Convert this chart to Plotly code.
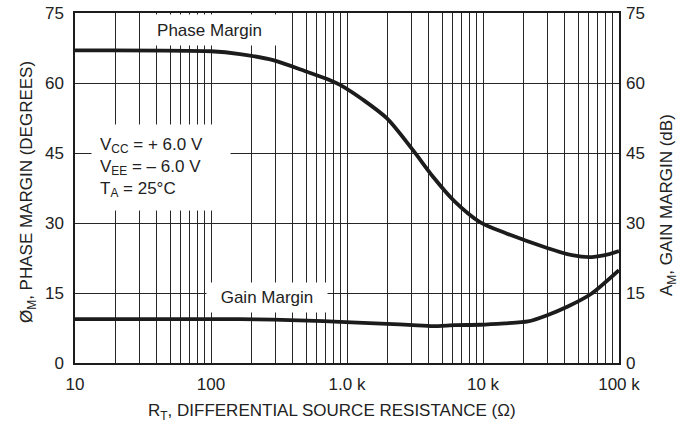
import plotly.graph_objects as go

# ---- data ----
phase_r = [10, 100, 163, 286, 508, 750, 889, 1312, 1968, 3055, 4290, 6100, 9500, 14450, 30000, 45100, 63000, 78900, 100000]
phase_deg = [67.0, 66.8, 66.2, 64.9, 62.4, 60.6, 59.6, 56.4, 52.4, 45.6, 39.9, 34.8, 30.2, 27.9, 24.6, 23.1, 22.7, 23.1, 24.0]

gain_r = [10, 100, 163, 286, 508, 889, 1968, 3055, 4290, 6225, 9500, 14450, 21400, 30000, 42000, 63000, 100000]
gain_db = [9.4, 9.4, 9.4, 9.3, 9.1, 8.8, 8.4, 8.1, 7.9, 8.1, 8.2, 8.5, 8.9, 10.3, 12.1, 14.9, 19.9]

x_tickvals = [10, 100, 1000, 10000, 100000]
x_ticktext = ["10", "100", "1.0 k", "10 k", "100 k"]
y_tickvals = [0, 15, 30, 45, 60, 75]

FONT = "Liberation Sans, Arial, sans-serif"
FS = 17
TXT = "#222"
INK = "#1c1c1c"
GRID = "#262626"

fig = go.Figure()
fig.add_trace(go.Scatter(x=phase_r, y=phase_deg, mode="lines",
                         line=dict(color=INK, width=3.8, shape="spline", smoothing=0.8),
                         showlegend=False, hoverinfo="skip"))
fig.add_trace(go.Scatter(x=gain_r, y=gain_db, mode="lines", yaxis="y2",
                         line=dict(color=INK, width=3.8, shape="spline", smoothing=0.6),
                         showlegend=False, hoverinfo="skip"))

L, R, T, B = 75, 76, 13, 71
W, H = 695, 434
pw, ph = W - L - R, H - T - B

def px(xp):
    return (xp - L) / pw

def py(yp):
    return (H - B - yp) / ph

fig.update_layout(
    width=W, height=H,
    margin=dict(l=L, r=R, t=T, b=B, pad=0, autoexpand=False),
    paper_bgcolor="white", plot_bgcolor="white",
    font=dict(family=FONT, size=FS, color=TXT),
    xaxis=dict(type="log", range=[1, 5], tickvals=x_tickvals, ticktext=x_ticktext,
               showgrid=True, gridcolor=GRID, gridwidth=1, automargin=False,
               minor=dict(dtick="D1", showgrid=True, gridcolor=GRID, gridwidth=1, ticks=""),
               showline=True, linecolor=INK, linewidth=1.5, mirror=True, ticks="", zeroline=False,
               ticklabelstandoff=5, tickfont=dict(size=FS)),
    yaxis=dict(range=[0, 75], tickvals=y_tickvals, showgrid=True, gridcolor=GRID, gridwidth=1,
               showline=True, linecolor=INK, linewidth=1.5, mirror=True, ticks="", zeroline=False,
               automargin=False, ticklabelstandoff=6, tickfont=dict(size=FS)),
    yaxis2=dict(range=[0, 75], tickvals=y_tickvals, overlaying="y", side="right", showgrid=False,
                showline=False, ticks="", zeroline=False, automargin=False,
                ticklabelstandoff=6, tickfont=dict(size=FS)),
)

anns = [
    dict(text="Phase Margin", x=px(209.5), y=py(30), width=135, height=30, borderpad=0),
    dict(text="V<sub>CC</sub> = + 6.0 V<br>V<sub>EE</sub> = \u2013 6.0 V<br>T<sub>A</sub> = 25\u00b0C",
         x=px(161), y=py(167.5), width=122, height=69, borderpad=8, align="left"),
    dict(text="Gain Margin", x=px(267), y=py(297.5), width=120, height=29, borderpad=0),
]
for a in anns:
    fig.add_annotation(xref="paper", yref="paper", showarrow=False, bgcolor="white",
                       xanchor="center", yanchor="middle",
                       font=dict(size=FS, color=TXT), **a)

fig.add_annotation(xref="paper", yref="paper", showarrow=False, x=px(332), y=py(412),
                   text="R<sub>T</sub>, DIFFERENTIAL SOURCE RESISTANCE (\u03a9)", font=dict(size=FS, color=TXT),
                   xanchor="center", yanchor="middle")
fig.add_annotation(xref="paper", yref="paper", showarrow=False, x=px(28), y=py(192), textangle=-90,
                   text="\u00d8<sub>M</sub>, PHASE MARGIN (DEGREES)", font=dict(size=FS, color=TXT),
                   xanchor="center", yanchor="middle")
fig.add_annotation(xref="paper", yref="paper", showarrow=False, x=px(668), y=py(205), textangle=-90,
                   text="A<sub>M</sub>, GAIN MARGIN (dB)", font=dict(size=FS, color=TXT),
                   xanchor="center", yanchor="middle")

fig.write_html("out.html", config={"displayModeBar": False},
               post_script="document.body.style.margin='0px';document.body.style.overflow='hidden';")
